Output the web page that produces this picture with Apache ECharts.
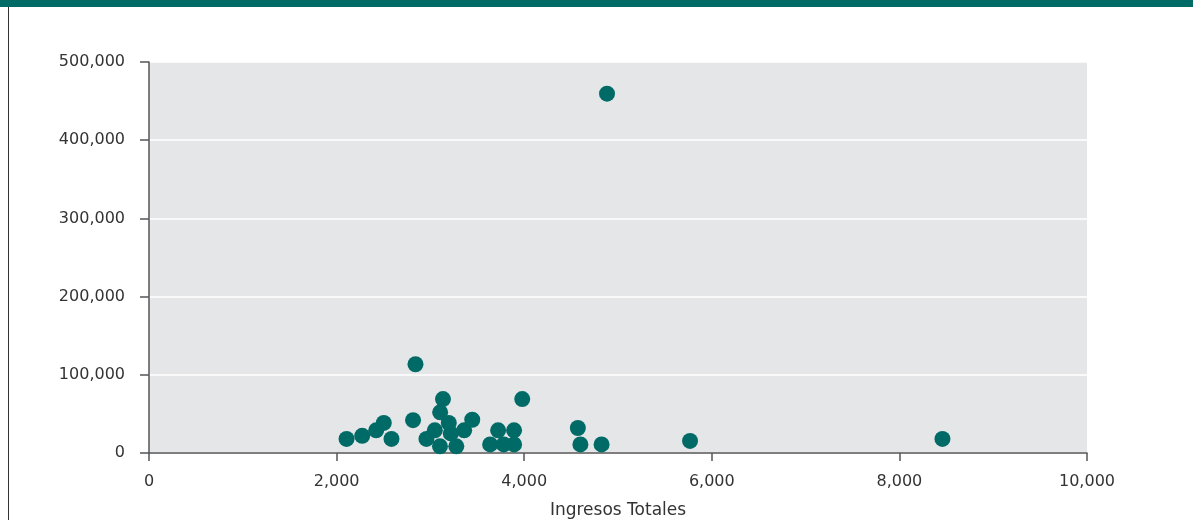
<!DOCTYPE html>
<html>
<head>
<meta charset="utf-8">
<script src="https://cdn.jsdelivr.net/npm/echarts@6/dist/echarts.min.js"></script>
<style>
html,body{margin:0;padding:0;background:#fff;}
#chart{width:1193px;height:520px;}
</style>
</head>
<body>
<div id="chart"></div>
<script>
// Data
const ingresosTotales = [2106, 2273, 2422, 2503, 2585, 2841, 2815, 2958, 3047, 3134, 3104, 3196, 3217, 3102, 3276, 3360, 3446, 3637, 3722, 3782, 3892, 3892, 3979, 4572, 4599, 4825, 5768, 8459, 4883];
const valoresY = [18000, 22000, 29000, 38500, 18000, 113500, 42000, 18000, 29000, 69000, 52000, 38500, 25000, 8500, 8500, 29000, 42500, 11000, 29000, 11000, 29000, 11000, 69000, 32000, 11000, 11000, 15500, 18000, 459500];
const xTicks = [0, 2000, 4000, 6000, 8000, 10000];
const yTicks = [0, 100000, 200000, 300000, 400000, 500000];
const xAxisName = 'Ingresos Totales';

const points = ingresosTotales.map((x, i) => [x, valoresY[i]]);
const fmt = v => Number(v).toLocaleString('en-US');
const teal = '#006b66';
const font = 'DejaVu Sans';

const chart = echarts.init(document.getElementById('chart'), null, {renderer: 'canvas'});
chart.setOption({
  animation: false,
  backgroundColor: '#ffffff',
  grid: {
    left: 149, right: 106, top: 62, bottom: 67,
    containLabel: false, outerBoundsMode: 'none',
    show: true, backgroundColor: '#e5e6e8', borderWidth: 0
  },
  xAxis: {
    type: 'value',
    min: xTicks[0], max: xTicks[xTicks.length - 1], interval: 2000,
    name: xAxisName, nameLocation: 'middle', nameGap: 49,
    nameTextStyle: {fontFamily: font, fontSize: 17, color: '#333'},
    axisLine: {show: true, lineStyle: {color: '#555', width: 1.5}},
    axisTick: {show: true, length: 8, lineStyle: {color: '#555', width: 1.5}},
    axisLabel: {formatter: fmt, fontFamily: font, fontSize: 16, color: '#333', margin: 21},
    splitLine: {show: false}
  },
  yAxis: {
    type: 'value',
    min: yTicks[0], max: yTicks[yTicks.length - 1], interval: 100000,
    axisLine: {show: true, lineStyle: {color: '#555', width: 1.5}},
    axisTick: {show: true, length: 9, lineStyle: {color: '#555', width: 1.5}},
    axisLabel: {formatter: fmt, fontFamily: font, fontSize: 16, color: '#333', margin: 24},
    splitLine: {show: true, lineStyle: {color: '#ffffff', width: 1.5}}
  },
  series: [{
    type: 'scatter',
    data: points,
    symbol: 'circle',
    symbolSize: 16,
    itemStyle: {color: teal, opacity: 1}
  }],
  graphic: [
    {type: 'rect', left: 0, top: 0, shape: {x: 0, y: 0, width: 1193, height: 7}, style: {fill: teal}},
    {type: 'rect', left: 8, top: 7, shape: {x: 0, y: 0, width: 1, height: 513}, style: {fill: '#333'}}
  ]
});
</script>
</body>
</html>
